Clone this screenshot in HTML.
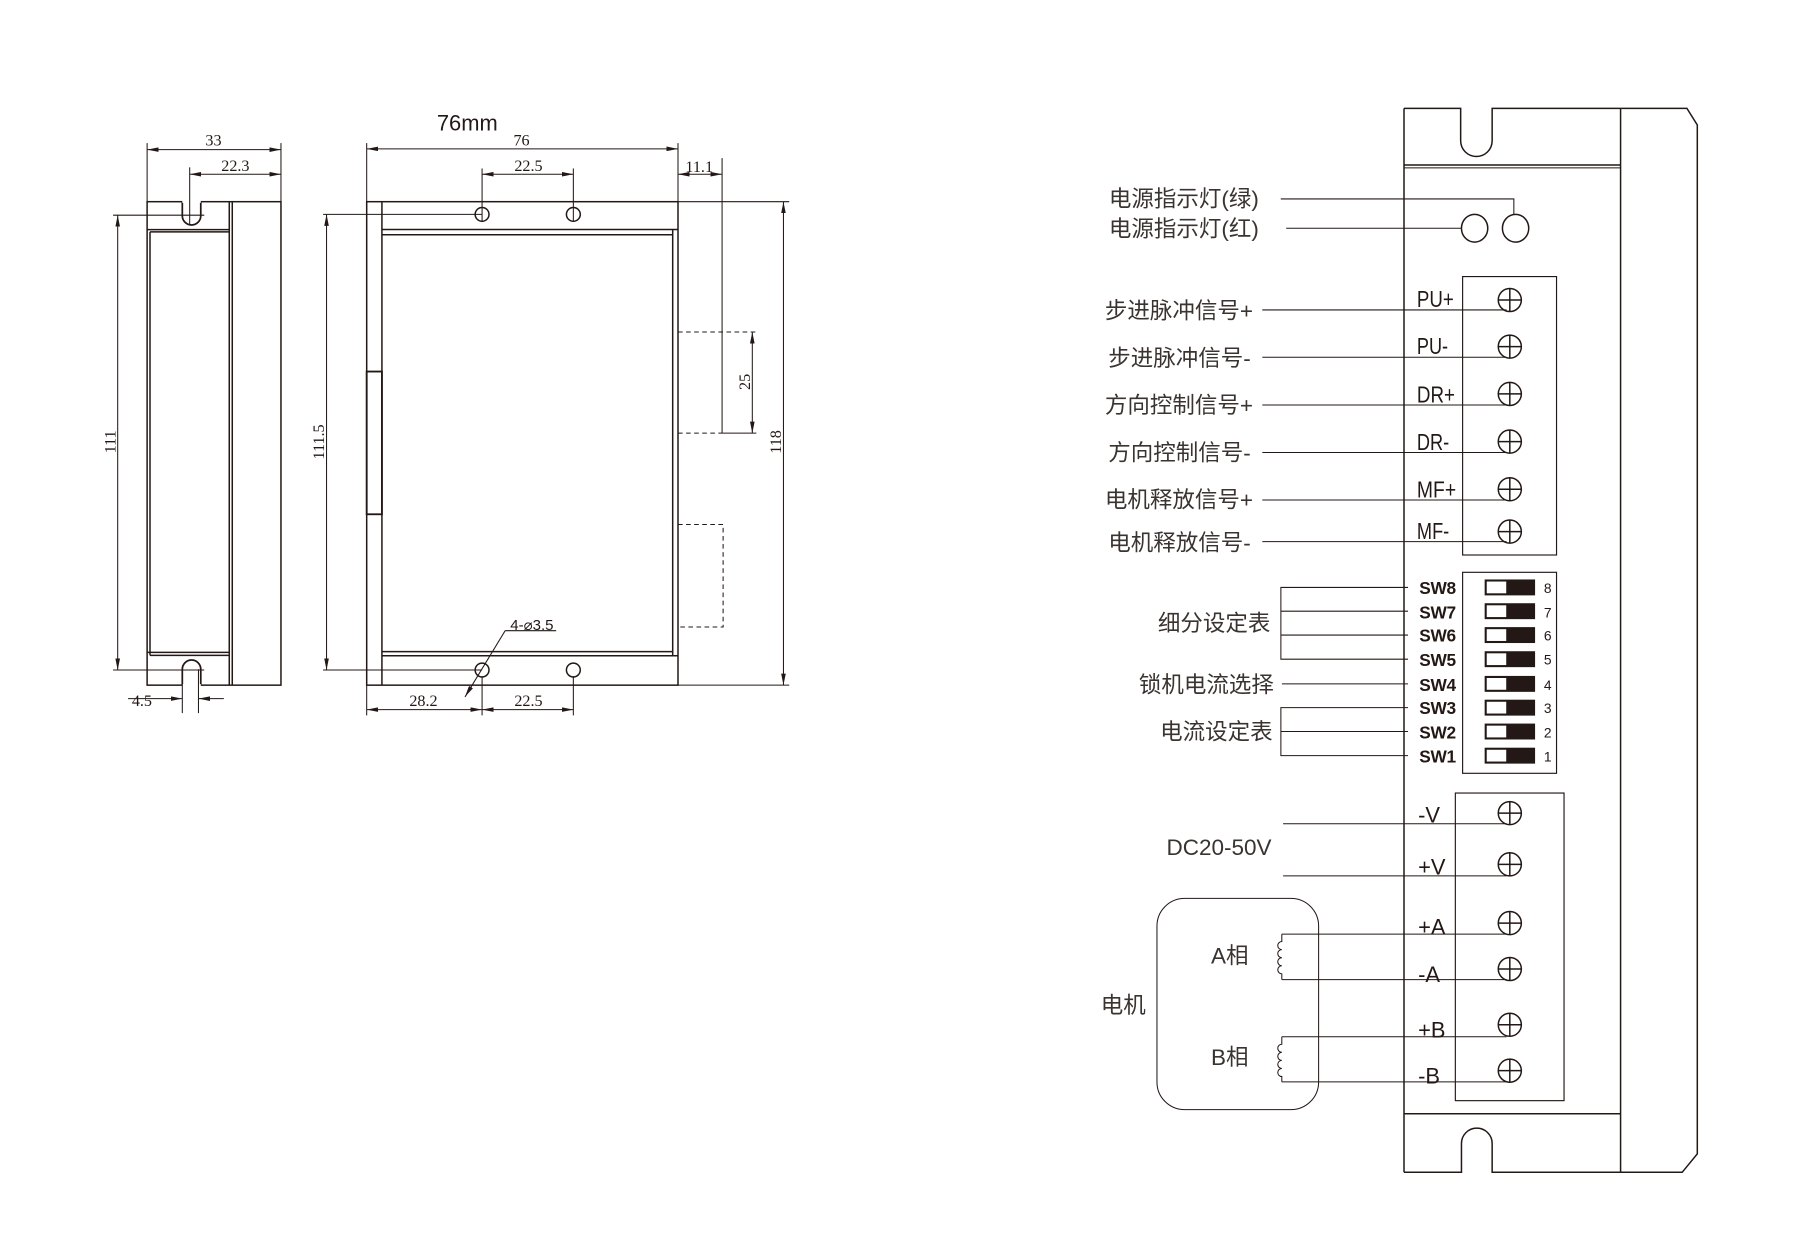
<!DOCTYPE html>
<html><head><meta charset="utf-8"><style>
html,body{margin:0;padding:0;background:#fff;}
svg{display:block;}
.cn{font-family:"Liberation Sans","Noto Sans CJK SC",sans-serif;fill:#3a3330;}
.dm{font-family:"Liberation Serif",serif;fill:#231815;font-size:14px;}
</style></head><body>
<svg width="1800" height="1260" viewBox="0 0 1560 1092" preserveAspectRatio="none" xmlns="http://www.w3.org/2000/svg">
<defs>
<marker id="ar" viewBox="0 0 10 4" refX="10" refY="2" markerWidth="10" markerHeight="4" markerUnits="userSpaceOnUse" orient="auto-start-reverse"><path d="M0,0 L10,2 L0,4 z" fill="#231815"/></marker>
</defs>
<g fill="none" stroke="#231815" stroke-width="1.3">
<rect x="127.5" y="174.8" width="116" height="419"/>
<line x1="198.7" y1="174.8" x2="198.7" y2="593.8"/>
<line x1="201.3" y1="174.8" x2="201.3" y2="593.8"/>
<line x1="127.5" y1="199" x2="198.7" y2="199"/>
<line x1="130" y1="201" x2="198.7" y2="201"/>
<line x1="130" y1="201" x2="130" y2="568"/>
<line x1="127.5" y1="565.4" x2="198.7" y2="565.4"/>
<line x1="130" y1="568" x2="198.7" y2="568"/>
<path d="M158,174.8 V187 A8,8 0 0 0 174,187 V174.8" stroke-width="1.5"/>
<line x1="158" y1="174.8" x2="174" y2="174.8" stroke="#fff" stroke-width="2"/>
<path d="M158,593.8 V580 A8,8 0 0 1 174,580 V593.8" stroke-width="1.5"/>
<line x1="158" y1="593.8" x2="174" y2="593.8" stroke="#fff" stroke-width="2"/>
<g stroke-width="0.9">
<line x1="127.5" y1="124" x2="127.5" y2="174.8"/><line x1="243.5" y1="124" x2="243.5" y2="174.8"/>
<line x1="127.5" y1="129.7" x2="243.5" y2="129.7" marker-start="url(#ar)" marker-end="url(#ar)"/>
<line x1="164.4" y1="145" x2="164.4" y2="195"/>
<line x1="164.4" y1="151" x2="243.5" y2="151" marker-start="url(#ar)" marker-end="url(#ar)"/>
<line x1="98" y1="186.5" x2="177" y2="186.5"/><line x1="98" y1="580.7" x2="177" y2="580.7"/>
<line x1="102" y1="186.5" x2="102" y2="580.7" marker-start="url(#ar)" marker-end="url(#ar)"/>
<line x1="158" y1="580" x2="158" y2="618"/><line x1="172" y1="580" x2="172" y2="618"/>
<line x1="111" y1="605.5" x2="158" y2="605.5" marker-end="url(#ar)"/>
<line x1="194" y1="605.5" x2="172" y2="605.5" marker-end="url(#ar)"/>
</g>
<rect x="317.8" y="174.8" width="269.8" height="419"/>
<line x1="331" y1="174.8" x2="331" y2="593.8"/>
<rect x="317.8" y="322" width="13.2" height="123.7" stroke-width="1.6"/>
<line x1="331" y1="198.9" x2="587.6" y2="198.9"/>
<line x1="331" y1="203.5" x2="583" y2="203.5"/>
<line x1="331" y1="564.7" x2="583" y2="564.7"/>
<line x1="331" y1="568.3" x2="587.6" y2="568.3"/>
<line x1="583" y1="198.9" x2="583" y2="568.3"/>
<circle cx="417.8" cy="185.8" r="6"/><circle cx="496.9" cy="185.8" r="6"/>
<circle cx="417.8" cy="580.7" r="6"/><circle cx="496.9" cy="580.7" r="6"/>
<g stroke-width="0.9">
<line x1="317.8" y1="124" x2="317.8" y2="174.8"/><line x1="587.6" y1="124" x2="587.6" y2="174.8"/>
<line x1="317.8" y1="129" x2="587.6" y2="129" marker-start="url(#ar)" marker-end="url(#ar)"/>
<line x1="417.8" y1="146" x2="417.8" y2="192"/><line x1="496.9" y1="146" x2="496.9" y2="192"/>
<line x1="417.8" y1="151" x2="496.9" y2="151" marker-start="url(#ar)" marker-end="url(#ar)"/>
<line x1="625.8" y1="137" x2="625.8" y2="375.4"/>
<line x1="587.6" y1="151" x2="625.8" y2="151" marker-start="url(#ar)" marker-end="url(#ar)"/>
<line x1="587.6" y1="287.7" x2="655.5" y2="287.7" stroke-dasharray="4,3"/>
<line x1="587.6" y1="375.4" x2="625.8" y2="375.4" stroke-dasharray="4,3"/>
<line x1="625.8" y1="375.4" x2="655.5" y2="375.4"/>
<line x1="652" y1="287.7" x2="652" y2="375.4" marker-start="url(#ar)" marker-end="url(#ar)"/>
<path d="M587.6,454.6 H626.7 V543.4 H587.6" stroke-dasharray="4,3"/>
<line x1="587.6" y1="174.8" x2="684" y2="174.8"/><line x1="587.6" y1="593.8" x2="684" y2="593.8"/>
<line x1="679" y1="174.8" x2="679" y2="593.8" marker-start="url(#ar)" marker-end="url(#ar)"/>
<line x1="280" y1="185.8" x2="417.8" y2="185.8"/><line x1="280" y1="580.7" x2="417.8" y2="580.7"/>
<line x1="283" y1="185.8" x2="283" y2="580.7" marker-start="url(#ar)" marker-end="url(#ar)"/>
<line x1="317.8" y1="593.8" x2="317.8" y2="620"/><line x1="417.8" y1="586" x2="417.8" y2="620"/><line x1="496.9" y1="586" x2="496.9" y2="620"/>
<line x1="317.8" y1="615" x2="417.8" y2="615" marker-start="url(#ar)" marker-end="url(#ar)"/>
<line x1="417.8" y1="615" x2="496.9" y2="615" marker-start="url(#ar)" marker-end="url(#ar)"/>
<line x1="482" y1="546.6" x2="437.8" y2="546.6"/>
<line x1="437.8" y1="546.6" x2="403" y2="604" marker-end="url(#ar)"/>
</g>
<path d="M1216.8,93.9 H1265.9 V122 A13.6,13.6 0 0 0 1293.2,122 V93.9 H1404.5"/>
<path d="M1404.5,93.9 H1462 L1471,108.3 V1000 L1457.9,1016 H1404.5"/>
<line x1="1216.8" y1="93.9" x2="1216.8" y2="1016"/>
<line x1="1404.5" y1="93.9" x2="1404.5" y2="1016"/>
<line x1="1216.8" y1="143" x2="1404.5" y2="143"/>
<line x1="1216.8" y1="145.5" x2="1404.5" y2="145.5" stroke-width="0.8"/>
<line x1="1216.8" y1="965.3" x2="1404.5" y2="965.3"/>
<path d="M1216.8,1016 H1266.6 V991 A13.3,13.3 0 0 1 1293.2,991 V1016 H1404.5"/>
<ellipse cx="1278" cy="197.8" rx="11.4" ry="12"/>
<ellipse cx="1313.5" cy="197.8" rx="11.4" ry="12"/>
<g stroke-width="0.9">
<path d="M1110,172.4 H1312 V185.8"/>
<line x1="1114.7" y1="197.8" x2="1266.6" y2="197.8"/>
</g>
<rect x="1267.6" y="239.7" width="81.4" height="241.3" stroke-width="1"/>
<g id="scr">
<circle cx="1308.5" cy="260" r="10"/><line x1="1298.5" y1="260" x2="1318.5" y2="260"/><line x1="1308.5" y1="250" x2="1308.5" y2="270"/>
</g>
<use href="#scr" y="40.4"/><use href="#scr" y="81.4"/><use href="#scr" y="122.7"/><use href="#scr" y="164"/><use href="#scr" y="200.7"/>
<g stroke-width="0.9">
<line x1="1094" y1="268.6" x2="1305.7" y2="268.6"/>
<line x1="1094" y1="309.6" x2="1305.7" y2="309.6"/>
<line x1="1094" y1="351" x2="1305.7" y2="351"/>
<line x1="1094" y1="392.2" x2="1305.7" y2="392.2"/>
<line x1="1094" y1="433.3" x2="1305.7" y2="433.3"/>
<line x1="1094" y1="469.4" x2="1305.7" y2="469.4"/>
</g>
<rect x="1267.6" y="496" width="81.4" height="174.2" stroke-width="1"/>
<g stroke-width="0.9">
<path d="M1220.3,509.1 H1110.1 V571.3 H1220.3"/>
<line x1="1110.1" y1="529.7" x2="1220.3" y2="529.7"/>
<line x1="1110.1" y1="550.4" x2="1220.3" y2="550.4"/>
<line x1="1111" y1="592.7" x2="1220.3" y2="592.7"/>
<path d="M1220.3,613.3 H1110.1 V654.9 H1220.3"/>
<line x1="1110.1" y1="634" x2="1220.3" y2="634"/>
</g>
<rect x="1261.3" y="687.3" width="94.2" height="266.6" stroke-width="1"/>
<use href="#scr" y="444.7"/><use href="#scr" y="489.1"/><use href="#scr" y="540"/><use href="#scr" y="579.8"/><use href="#scr" y="628.1"/><use href="#scr" y="667.9"/>
<g stroke-width="0.9">
<line x1="1112" y1="713.9" x2="1305.7" y2="713.9"/>
<line x1="1112" y1="759.1" x2="1305.7" y2="759.1"/>
<line x1="1110.9" y1="809.6" x2="1305.7" y2="809.6"/>
<line x1="1110.9" y1="849" x2="1305.7" y2="849"/>
<line x1="1110.9" y1="898.5" x2="1305.7" y2="898.5"/>
<line x1="1110.9" y1="937.6" x2="1305.7" y2="937.6"/>
<path d="M1110.9,809.6 V816 a3.5,3.5 0 0 0 0,7 a3.5,3.5 0 0 0 0,7 a3.5,3.5 0 0 0 0,7 a3.5,3.5 0 0 0 0,7 V849"/>
<path d="M1110.9,898.5 V905 a3.5,3.5 0 0 0 0,7 a3.5,3.5 0 0 0 0,7 a3.5,3.5 0 0 0 0,7 a3.5,3.5 0 0 0 0,7 V937.6"/>
<rect x="1002.7" y="778.6" width="140.1" height="183.1" rx="24" ry="24"/>
</g>
</g>
<g stroke="#231815" stroke-width="1">
<g id="dip"><rect x="1287.2" y="502.7" width="42.7" height="12.8" fill="#231815"/><rect x="1288" y="503.5" width="17.9" height="11.2" fill="#fff"/></g>
<use href="#dip" y="20.6"/><use href="#dip" y="41.3"/><use href="#dip" y="62.2"/><use href="#dip" y="83.6"/><use href="#dip" y="104.2"/><use href="#dip" y="124.9"/><use href="#dip" y="145.8"/>
</g>
<g class="dm" text-anchor="middle">
<text x="185" y="126">33</text>
<text x="204" y="148">22.3</text>
<text x="123" y="612">4.5</text>
<text x="452" y="126">76</text>
<text x="458" y="148">22.5</text>
<text x="606" y="149">11.1</text>
<text x="367" y="612">28.2</text>
<text x="458" y="612">22.5</text>
<text transform="translate(100,383) rotate(-90)">111</text>
<text transform="translate(281,383) rotate(-90)">111.5</text>
<text transform="translate(650,331) rotate(-90)">25</text>
<text transform="translate(677,383) rotate(-90)">118</text>
</g>
<text x="461" y="546" text-anchor="middle" style="font-family:'Liberation Sans',sans-serif;font-size:13px;fill:#231815">4-⌀3.5</text>
<text x="405" y="113" text-anchor="middle" style="font-family:'Liberation Sans',sans-serif;font-size:19px;fill:#231815">76mm</text>
<g class="cn" font-size="19.5" text-anchor="end">
<text x="1091" y="179">电源指示灯(绿)</text>
<text x="1091" y="205">电源指示灯(红)</text>
<text x="1086" y="276">步进脉冲信号+</text>
<text x="1084" y="317">步进脉冲信号-</text>
<text x="1086" y="358">方向控制信号+</text>
<text x="1084" y="399">方向控制信号-</text>
<text x="1086" y="440">电机释放信号+</text>
<text x="1084" y="477">电机释放信号-</text>
<text x="1101" y="547">细分设定表</text>
<text x="1104" y="600">锁机电流选择</text>
<text x="1103" y="641">电流设定表</text>
<text x="1102" y="741">DC20-50V</text>
<text x="1082" y="835">A相</text>
<text x="1082" y="923">B相</text>
<text x="993" y="878">电机</text>
</g>
<g font-family="'Liberation Sans',sans-serif" font-size="20" fill="#231815">
<text x="1228" y="266" textLength="32" lengthAdjust="spacingAndGlyphs">PU+</text>
<text x="1228" y="307" textLength="27" lengthAdjust="spacingAndGlyphs">PU-</text>
<text x="1228" y="349" textLength="33" lengthAdjust="spacingAndGlyphs">DR+</text>
<text x="1228" y="390" textLength="28" lengthAdjust="spacingAndGlyphs">DR-</text>
<text x="1228" y="431" textLength="34" lengthAdjust="spacingAndGlyphs">MF+</text>
<text x="1228" y="467" textLength="28" lengthAdjust="spacingAndGlyphs">MF-</text>
</g>
<g font-family="'Liberation Sans',sans-serif" font-size="19" fill="#231815">
<text x="1229" y="713">-V</text>
<text x="1229" y="758">+V</text>
<text x="1229" y="810">+A</text>
<text x="1229" y="851">-A</text>
<text x="1229" y="899">+B</text>
<text x="1229" y="939">-B</text>
</g>
<g font-family="'Liberation Sans',sans-serif" font-size="15" font-weight="bold" fill="#231815">
<text x="1230" y="515" textLength="32">SW8</text>
<text x="1230" y="536" textLength="32">SW7</text>
<text x="1230" y="556" textLength="32">SW6</text>
<text x="1230" y="577" textLength="32">SW5</text>
<text x="1230" y="599" textLength="32">SW4</text>
<text x="1230" y="619" textLength="32">SW3</text>
<text x="1230" y="640" textLength="32">SW2</text>
<text x="1230" y="661" textLength="32">SW1</text>
</g>
<g font-family="'Liberation Sans',sans-serif" font-size="12" fill="#231815">
<text x="1338" y="514">8</text><text x="1338" y="535">7</text><text x="1338" y="555">6</text><text x="1338" y="576">5</text>
<text x="1338" y="598">4</text><text x="1338" y="618">3</text><text x="1338" y="639">2</text><text x="1338" y="660">1</text>
</g>
</svg>
</body></html>
